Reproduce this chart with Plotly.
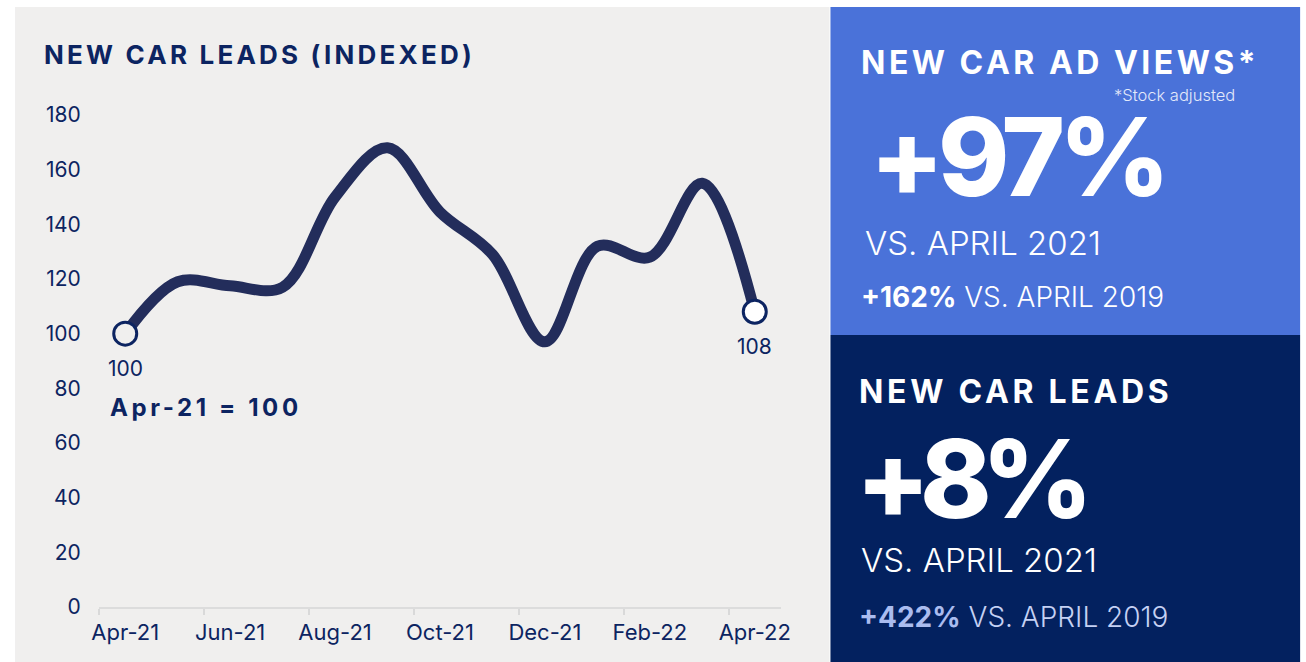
import plotly.graph_objects as go

# ---------------- data ----------------
months = ["Apr-21", "May-21", "Jun-21", "Jul-21", "Aug-21", "Sep-21", "Oct-21",
          "Nov-21", "Dec-21", "Jan-22", "Feb-22", "Mar-22", "Apr-22"]
leads_index = [100, 119, 117.5, 117, 150, 168, 144.5, 129, 97, 132, 128, 155, 108]
y_ticks = [0, 20, 40, 60, 80, 100, 120, 140, 160, 180]

chart_title = "NEW CAR LEADS (INDEXED)"
base_note = "Apr-21 = 100"

views_title = "NEW CAR AD VIEWS*"
views_footnote = "*Stock adjusted"
views_yoy = "+97%"
views_vs2019 = "+162%"
leads_title = "NEW CAR LEADS"
leads_yoy = "+8%"
leads_vs2019 = "+422%"
vs_2021 = "VS. APRIL 2021"
vs_2019 = "VS. APRIL 2019"

# ---------------- style ----------------
W, H = 1306, 662
PL, PR, PT, PB = 99, 781.5, 115, 607
BG = "#f0efee"
NAVY = "#0c2461"
LINE = "#232d5b"
LIGHT_BLUE = "#4a72d9"
DARK_BLUE = "#03215f"
FONT = "Inter"


def px(x):
    return (x - PL) / (PR - PL)


def py(y):
    return (PB - y) / (PB - PT)


def spaced(text, sp):
    return f'<span style="letter-spacing:{sp}px">{text}</span>'


fig = go.Figure()

fig.add_trace(go.Scatter(
    x=months, y=leads_index, mode="lines",
    line=dict(color=LINE, width=11, shape="spline", smoothing=1.0),
    hoverinfo="skip", showlegend=False, cliponaxis=False,
))
fig.add_trace(go.Scatter(
    x=[months[0], months[-1]], y=[leads_index[0], leads_index[-1]],
    mode="markers",
    marker=dict(size=23, color=[BG, "white"], line=dict(color=NAVY, width=3)),
    hoverinfo="skip", showlegend=False, cliponaxis=False,
))

annotations = []
# end-point value labels
for i in (0, len(months) - 1):
    annotations.append(dict(
        x=months[i], y=leads_index[i], xref="x", yref="y",
        text=f"{leads_index[i]:g}", showarrow=False, yshift=-35,
        font=dict(family=FONT, size=21, color=NAVY),
    ))

# left panel texts
annotations.append(dict(
    x=px(42), y=py(55), xref="paper", yref="paper", xanchor="left", yanchor="middle",
    text=spaced(chart_title, 3.2), showarrow=False,
    font=dict(family=FONT, size=26, color=NAVY, weight="bold"),
))
annotations.append(dict(
    x=px(108), y=py(407), xref="paper", yref="paper", xanchor="left", yanchor="middle",
    text=spaced(base_note, 3.6), showarrow=False,
    font=dict(family=FONT, size=24, color=NAVY, weight="bold"),
))

# right top (light blue) panel
annotations += [
    dict(x=px(860), y=py(62), xref="paper", yref="paper", xanchor="left", yanchor="middle",
         text=spaced(views_title, 3.5), showarrow=False,
         font=dict(family=FONT, size=32, color="white", weight="bold")),
    dict(x=px(1238), y=py(95), xref="paper", yref="paper", xanchor="right", yanchor="middle",
         text=views_footnote, showarrow=False,
         font=dict(family=FONT, size=16.5, color="#e3e9fa", weight=300)),
    dict(x=px(869), y=py(156), xref="paper", yref="paper", xanchor="left", yanchor="middle",
         text=spaced(views_yoy, -6), showarrow=False,
         font=dict(family=FONT, size=108, color="white", weight=800)),
    dict(x=px(864), y=py(243), xref="paper", yref="paper", xanchor="left", yanchor="middle",
         text=vs_2021, showarrow=False,
         font=dict(family=FONT, size=33, color="white", weight=300)),
    dict(x=px(860), y=py(297), xref="paper", yref="paper", xanchor="left", yanchor="middle",
         text=f"<b>{views_vs2019}</b> {vs_2019}", showarrow=False,
         font=dict(family=FONT, size=28, color="white", weight=300)),
]

# right bottom (dark) panel
annotations += [
    dict(x=px(858), y=py(391), xref="paper", yref="paper", xanchor="left", yanchor="middle",
         text=spaced(leads_title, 3.7), showarrow=False,
         font=dict(family=FONT, size=32, color="white", weight="bold")),
    dict(x=px(855), y=py(479), xref="paper", yref="paper", xanchor="left", yanchor="middle",
         text=spaced(leads_yoy, -10), showarrow=False,
         font=dict(family=FONT, size=108, color="white", weight=800)),
    dict(x=px(860), y=py(560), xref="paper", yref="paper", xanchor="left", yanchor="middle",
         text=vs_2021, showarrow=False,
         font=dict(family=FONT, size=33, color="white", weight=300)),
    dict(x=px(858), y=py(617), xref="paper", yref="paper", xanchor="left", yanchor="middle",
         text=f'<b><span style="fill:#aabcef">{leads_vs2019}</span></b> {vs_2019}',
         showarrow=False,
         font=dict(family=FONT, size=28, color="#c5d1f4", weight=300)),
]

shapes = [
    dict(type="rect", xref="paper", yref="paper", x0=px(15), x1=px(830), y0=py(7), y1=py(662),
         fillcolor=BG, line=dict(width=0), layer="below"),
    dict(type="rect", xref="paper", yref="paper", x0=px(831), x1=px(1301), y0=py(7), y1=py(335),
         fillcolor=LIGHT_BLUE, line=dict(width=0), layer="below"),
    dict(type="rect", xref="paper", yref="paper", x0=px(831), x1=px(1301), y0=py(335), y1=py(662),
         fillcolor=DARK_BLUE, line=dict(width=0), layer="below"),
]

fig.update_layout(
    width=W, height=H,
    margin=dict(l=PL, r=W - PR, t=PT, b=H - PB, pad=0, autoexpand=False),
    paper_bgcolor="white", plot_bgcolor="rgba(0,0,0,0)",
    showlegend=False,
    annotations=annotations, shapes=shapes,
    font=dict(family=FONT, color=NAVY),
    xaxis=dict(
        type="category", categoryorder="array", categoryarray=months,
        range=[-0.5, len(months) - 0.5],
        tickmode="linear", tick0=0, dtick=2, tickangle=0,
        tickson="boundaries", ticks="outside", ticklen=6, tickwidth=2, tickcolor="#d9d9d9",
        ticklabelstandoff=5,
        showline=True, linecolor="#dcdcdc", linewidth=2,
        showgrid=False, zeroline=False, automargin=False,
        tickfont=dict(family=FONT, size=22, color=NAVY),
        fixedrange=True,
    ),
    yaxis=dict(
        range=[0, 180], tickmode="array", tickvals=y_ticks,
        ticks="outside", ticklen=13, tickcolor="rgba(0,0,0,0)",
        showline=False, showgrid=False, zeroline=False, automargin=False,
        tickfont=dict(family=FONT, size=21, color=NAVY),
        fixedrange=True,
    ),
)

fig.write_html("out.html", config={"displayModeBar": False},
               post_script="document.body.style.margin='0';")
